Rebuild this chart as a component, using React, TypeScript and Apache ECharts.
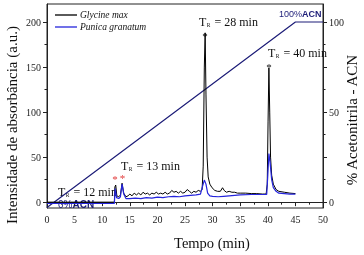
import React, { useEffect, useRef } from 'react';
import * as echarts from 'echarts';

// Glycine max chromatogram (left axis, a.u.)
const glycineTime = [0, 12.2, 12.3, 12.45, 12.65, 13.0, 13.3, 13.6, 13.9, 14.3, 14.7, 15.0, 15.4, 15.8, 16.2, 16.6, 17.0, 17.4, 17.8, 18.2, 18.6, 19.0, 19.4, 19.8, 20.2, 20.6, 21.0, 21.4, 21.8, 22.2, 22.6, 23.0, 23.4, 23.8, 24.2, 24.6, 25.0, 25.4, 25.8, 26.2, 26.6, 27.0, 27.4, 27.8, 28.1, 28.3, 28.5, 28.65, 28.8, 29.0, 29.2, 29.5, 29.9, 30.4, 30.9, 31.4, 31.8, 32.1, 32.5, 33.0, 33.5, 34.0, 34.5, 35.0, 36.0, 37.0, 38.0, 39.0, 39.7, 39.9, 40.05, 40.2, 40.35, 40.5, 40.7, 41.0, 41.5, 42.0, 43.0, 44.0, 45.0];
const glycineIntensity = [0, 0, 17, 19, 7, 6, 8, 21, 10, 6, 7, 9, 7, 10, 8, 10, 8, 11, 9, 10, 8, 10, 9, 11, 9, 10, 9, 11, 9, 10, 13, 11, 12, 10, 12, 10, 11, 14, 12, 10, 12, 11, 13, 12, 14, 40, 150, 188, 120, 50, 28, 20, 16, 13, 12, 12, 16, 13, 11, 12, 11, 11, 10, 10, 10, 9.5, 9.5, 9, 9, 20, 90, 149, 100, 50, 30, 20, 14, 12, 11, 10, 9.5];

// Punica granatum chromatogram (left axis, a.u.)
const punicaTime = [0, 12.2, 12.35, 12.6, 13.0, 13.3, 13.6, 13.9, 14.3, 15, 16, 17, 18, 19, 20, 21, 22, 23, 24, 25, 26, 27, 27.8, 28.2, 28.5, 28.8, 29.1, 29.5, 30, 31, 32, 33, 35, 37, 39, 39.8, 40.0, 40.2, 40.4, 40.7, 41, 41.5, 42, 43, 44, 45];
const punicaIntensity = [-1.5, -1.5, 15, 5, 4, 6, 20, 9, 4, 4, 4.5, 4, 5, 4.5, 5.5, 5, 6, 6.5, 6, 7, 7.5, 8, 9, 18, 24.5, 20, 10, 7, 6.5, 6, 6.5, 7, 8, 8.5, 8.5, 8.5, 30, 54, 45, 25, 16, 12, 10, 9.5, 9, 9];

// Acetonitrile gradient (right axis, %)
const acnTime = [0, 45, 50];
const acnPercent = [-3, 100, 100];

const leftTicks = [0, 50, 100, 150, 200];
const leftMinorTicks = [25, 75, 125, 175];
const rightLabels = [0, 50, 100];
const rightTicks = [0, 25, 50, 75, 100];
const rightMinorTicks = [12.5, 37.5, 62.5, 87.5];

const zip = (t: number[], v: number[]) => t.map((x, i) => [x, v[i]]);

const SERIF = '"Liberation Serif", "Times New Roman", serif';
const SANS = '"Liberation Sans", Arial, sans-serif';
const AXIS = '#222';

function trText(x: number, y: number, label: string) {
  return {
    type: 'text',
    x,
    y,
    style: {
      text: `{t|T}{s|R}{t| = ${label}}`,
      verticalAlign: 'middle',
      rich: {
        t: { fontFamily: SERIF, fontSize: 12, fill: '#111' },
        s: { fontFamily: SERIF, fontSize: 5.5, fill: '#111', verticalAlign: 'bottom', padding: [3, 1, 0, 0.5] },
      },
    },
  };
}

function star(x: number, y: number, color: string) {
  return {
    type: 'text',
    x,
    y,
    style: { text: '*', fontFamily: SERIF, fontSize: 11, fill: color, align: 'center', verticalAlign: 'middle' },
  };
}

export default function App() {
  const ref = useRef<HTMLDivElement>(null);
  useEffect(() => {
    const chart = echarts.init(ref.current!, null, { renderer: 'svg' });
    const tickLabel = { fontFamily: SERIF, fontSize: 10, color: '#222' };
    chart.setOption({
      animation: false,
      grid: { left: 47, right: 41, top: 4, bottom: 47, show: true, borderColor: AXIS, borderWidth: 1, backgroundColor: 'transparent' },
      legend: {
        orient: 'vertical',
        left: 50,
        top: 5,
        itemWidth: 22,
        itemHeight: 1.3,
        itemGap: 2,
        icon: 'rect',
        data: ['Glycine max', 'Punica granatum'],
        textStyle: { fontFamily: SERIF, fontStyle: 'italic', fontSize: 9.5, color: '#111', padding: [0, 0, 0, -2] },
      },
      xAxis: {
        type: 'value',
        min: 0,
        max: 50,
        interval: 5,
        axisLine: { show: true, lineStyle: { color: AXIS } },
        axisTick: { show: true, length: 4, lineStyle: { color: AXIS } },
        minorTick: { show: true, splitNumber: 2, length: 2.5, lineStyle: { color: AXIS } },
        splitLine: { show: false },
        axisLabel: { ...tickLabel, margin: 6 },
      },
      yAxis: [
        {
          type: 'value',
          position: 'left',
          min: -6.5,
          max: 220,
          axisLine: { show: true, lineStyle: { color: AXIS } },
          axisTick: { show: true, length: 4, lineStyle: { color: AXIS }, customValues: leftTicks },
          axisLabel: { ...tickLabel, margin: 6, customValues: leftTicks },
          splitLine: { show: false },
        },
        {
          type: 'value',
          position: 'right',
          min: -3.25,
          max: 110,
          axisLine: { show: true, lineStyle: { color: AXIS } },
          axisTick: { show: true, length: 4, lineStyle: { color: AXIS }, customValues: rightTicks },
          axisLabel: { ...tickLabel, margin: 6, customValues: rightLabels },
          splitLine: { show: false },
        },
        {
          type: 'value',
          position: 'left',
          min: -6.5,
          max: 220,
          axisLine: { show: false },
          axisTick: { show: true, length: 2.5, lineStyle: { color: AXIS }, customValues: leftMinorTicks },
          axisLabel: { show: false, customValues: leftMinorTicks },
          splitLine: { show: false },
        },
        {
          type: 'value',
          position: 'right',
          min: -3.25,
          max: 110,
          axisLine: { show: false },
          axisTick: { show: true, length: 2.5, lineStyle: { color: AXIS }, customValues: rightMinorTicks },
          axisLabel: { show: false, customValues: rightMinorTicks },
          splitLine: { show: false },
        },
      ],
      series: [
        {
          name: 'ACN',
          type: 'line',
          yAxisIndex: 1,
          data: zip(acnTime, acnPercent),
          symbol: 'none',
          lineStyle: { color: '#1d1d78', width: 1.2 },
          itemStyle: { color: '#1d1d78' },
          z: 1,
        },
        {
          name: 'Glycine max',
          type: 'line',
          yAxisIndex: 0,
          data: zip(glycineTime, glycineIntensity),
          symbol: 'none',
          lineStyle: { color: '#000', width: 1 },
          itemStyle: { color: '#000' },
          z: 2,
        },
        {
          name: 'Punica granatum',
          type: 'line',
          yAxisIndex: 0,
          data: zip(punicaTime, punicaIntensity),
          symbol: 'none',
          lineStyle: { color: '#2424dc', width: 1.2 },
          itemStyle: { color: '#2424dc' },
          z: 3,
        },
      ],
      graphic: [
        {
          type: 'text', x: 12, y: 125, rotation: Math.PI / 2,
          style: { text: 'Intensidade de absorbância (a.u.)', fontFamily: SERIF, fontSize: 15, fill: '#111', align: 'center', verticalAlign: 'middle' },
        },
        {
          type: 'text', x: 352, y: 120, rotation: Math.PI / 2,
          style: { text: '% Acetonitrila - ACN', fontFamily: SERIF, fontSize: 15, fill: '#111', align: 'center', verticalAlign: 'middle' },
        },
        {
          type: 'text', x: 212, y: 243,
          style: { text: 'Tempo (min)', fontFamily: SERIF, fontSize: 14.5, fill: '#111', align: 'center', verticalAlign: 'middle' },
        },
        trText(58, 192, '12 min'),
        trText(121, 166, '13 min'),
        trText(199, 22, '28 min'),
        trText(268, 53, '40 min'),
        star(115, 179, '#e23b3b'),
        star(122.5, 178, '#e23b3b'),
        star(205, 36, '#111'),
        star(269, 67, '#111'),
        {
          type: 'text', x: 279, y: 14,
          style: {
            text: '{n|100%}{b|ACN}', verticalAlign: 'middle',
            rich: {
              n: { fontFamily: SANS, fontSize: 9, fill: '#1d1d78' },
              b: { fontFamily: SANS, fontSize: 9, fontWeight: 'bold', fill: '#1d1d78' },
            },
          },
        },
        {
          type: 'text', x: 58, y: 204,
          style: {
            text: '{n|0%}{b|ACN}', verticalAlign: 'middle',
            rich: {
              n: { fontFamily: SANS, fontSize: 10, fill: '#1d1d78' },
              b: { fontFamily: SANS, fontSize: 10, fontWeight: 'bold', fill: '#1d1d78' },
            },
          },
        },
      ],
    });
    return () => chart.dispose();
  }, []);
  return <div ref={ref} style={{ position: 'fixed', left: 0, top: 0, width: 364, height: 255 }} />;
}
